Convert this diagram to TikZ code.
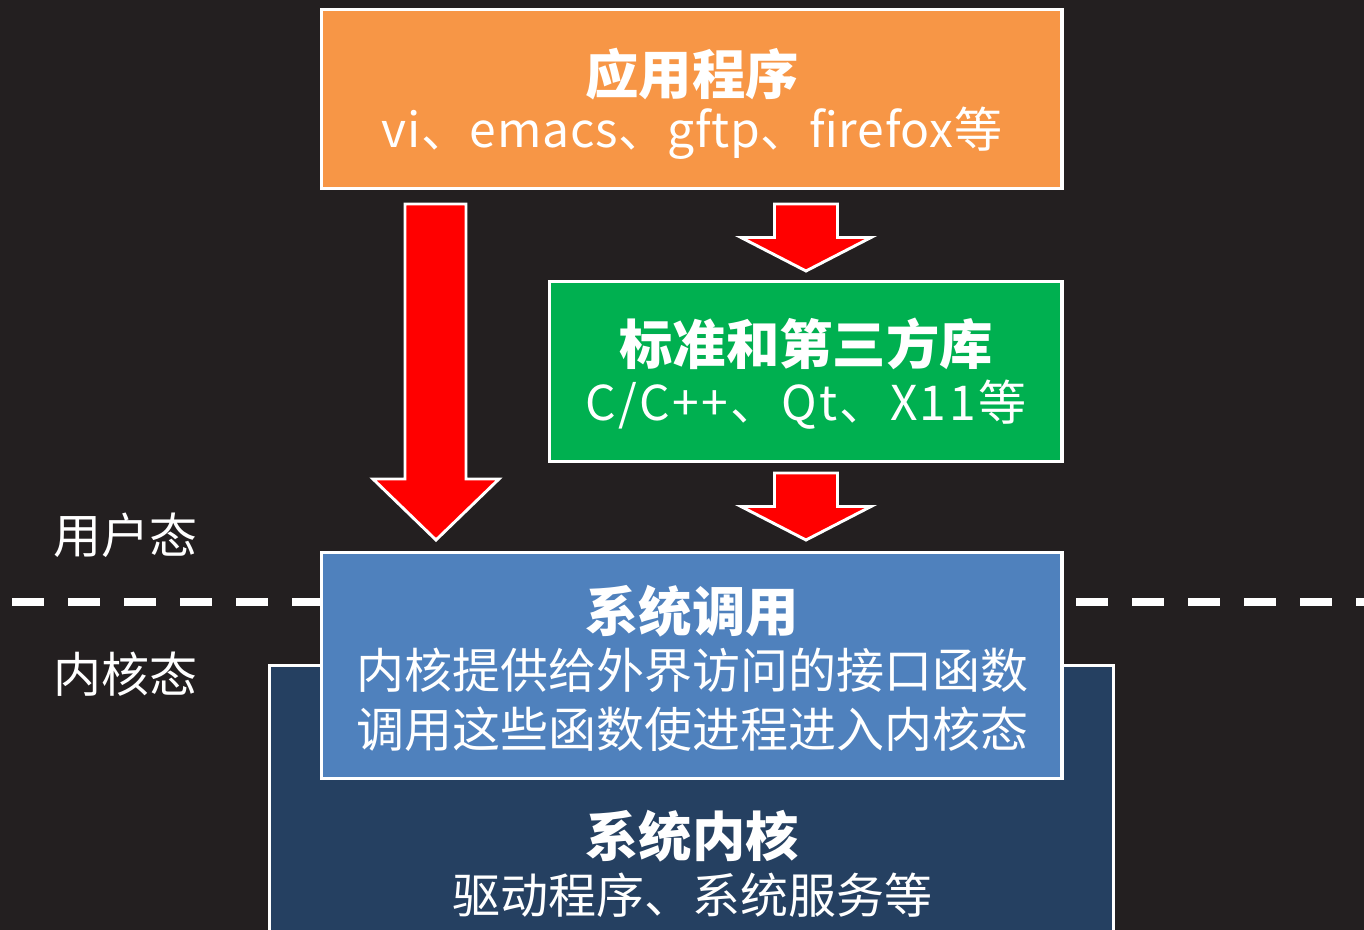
\documentclass[tikz,border=0pt]{standalone}
\usepackage{fontspec}
\setmainfont{Noto Sans CJK SC}
\definecolor{bgc}{HTML}{231F20}
\definecolor{orangec}{HTML}{F79646}
\definecolor{greenc}{HTML}{00B050}
\definecolor{bluec}{HTML}{4F81BD}
\definecolor{darkc}{HTML}{254061}
\tikzset{
  box/.style={draw=white, line width=2.4pt, inner sep=0pt},
  blockarrow/.style={draw=white, fill=red, line width=2.2pt, line join=miter},
  title/.style={text=white, font=\fontsize{40}{48}\selectfont\bfseries, inner sep=0pt},
  body/.style={text=white, font=\fontsize{36}{44}\selectfont, inner sep=0pt},
  sep/.style={draw=white, line width=5.5pt, dash pattern=on 24pt off 18pt}
}
\begin{document}
\begin{tikzpicture}[x=0.75pt,y=-0.75pt]
\useasboundingbox (0,0) rectangle (1364,930);
\fill[bgc] (0,0) rectangle (1364,930);
\clip (0,0) rectangle (1364,930);
% separator
\coordinate (sepL) at (12,602);
\coordinate (sepR) at (1364,602);
\draw[sep] (sepL) -- (sepR);
% boxes
\draw[box, fill=darkc] (269.5,665.5) rectangle (1113.5,945);
\draw[box, fill=bluec] (321.5,552.5) rectangle (1062,778.5);
\draw[box, fill=orangec] (321.5,9.5) rectangle (1062,188.5);
\draw[box, fill=greenc] (549.5,281.5) rectangle (1062,461.5);
% block arrows
\draw[blockarrow] (405,204) -- (466,204) -- (466,479) -- (499,479) -- (436,540) -- (373,479) -- (405,479) -- cycle;
\draw[blockarrow] (774.5,204) -- (837.5,204) -- (837.5,237.5) -- (871,237.5) -- (806,271) -- (741,237.5) -- (774.5,237.5) -- cycle;
\draw[blockarrow] (774.5,473) -- (837.5,473) -- (837.5,506.5) -- (871,506.5) -- (806,540) -- (741,506.5) -- (774.5,506.5) -- cycle;
% texts
\node[title] (appT) at (692,74) {应用程序};
\node[body] (appB) at (692,133) {\addfontfeature{LetterSpace=1.5}vi、emacs、gftp、firefox等};
\node[title] (libT) at (806,344) {标准和第三方库};
\node[body] (libB) at (806,405) {\addfontfeature{LetterSpace=5}C/C++、Qt、X11等};
\node[title] (sysT) at (692,611) {系统调用};
\node[body] (sysB1) at (692,670) {内核提供给外界访问的接口函数};
\node[body] (sysB2) at (692,729) {调用这些函数使进程进入内核态};
\node[title] (kerT) at (692,836) {系统内核};
\node[body] (kerB) at (692,895) {驱动程序、系统服务等};
\node[body] (user) at (125,535) {用户态};
\node[body] (kern) at (125,674) {内核态};
\end{tikzpicture}
\end{document}
